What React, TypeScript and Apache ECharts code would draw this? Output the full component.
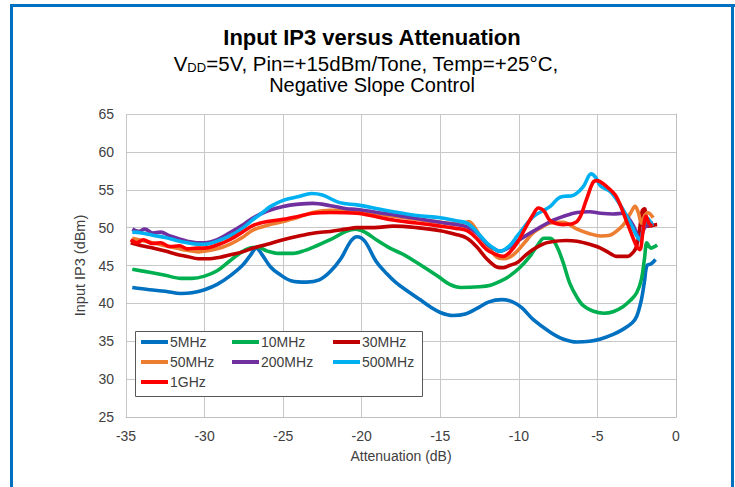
import React, { useEffect, useRef } from "react";
import * as echarts from "echarts";

const seriesNames = ["5MHz", "10MHz", "30MHz", "50MHz", "200MHz", "500MHz", "1GHz"];
const seriesColors = ["#0070C0", "#00B050", "#C00000", "#ED7D31", "#7030A0", "#00B0F0", "#FF0000"];

const xTicks = { min: -35, max: 0, interval: 5 };
const yTicks = { min: 25, max: 65, interval: 5 };

const d5MHz = [
  [-34.6, 42.1], [-33.5, 41.8], [-32.5, 41.6], [-31.5, 41.3], [-30.8, 41.4], [-30, 41.8], [-29.2, 42.5],
  [-28.4, 43.6], [-27.6, 45.0], [-27.1, 46.3], [-26.7, 47.3], [-26.3, 46.3], [-25.8, 44.8], [-25.2, 43.8],
  [-24.5, 43.0], [-23.5, 42.8], [-22.7, 43.1], [-22, 44.2], [-21.3, 46.0], [-20.7, 48.2], [-20.3, 48.8],
  [-19.8, 48.2], [-19.1, 45.6], [-18.4, 43.9], [-17.8, 42.7], [-17, 41.5], [-16.3, 40.5], [-15.6, 39.5],
  [-15, 38.8], [-14.2, 38.4], [-13.4, 38.6], [-12.7, 39.3], [-11.9, 40.2], [-11.1, 40.5], [-10.4, 40.2],
  [-9.8, 39.4], [-9.1, 37.9], [-8, 36.2], [-7.2, 35.3], [-6.3, 34.9], [-5.5, 35.0], [-4.8, 35.3],
  [-4.0, 35.9], [-3.35, 36.6], [-2.8, 37.4], [-2.5, 38.3], [-2.2, 40.5], [-2.0, 43.0], [-1.85, 45.0],
  [-1.6, 45.2], [-1.3, 45.8],
];

const d10MHz = [
  [-34.6, 44.5], [-33.5, 44.1], [-32.5, 43.7], [-31.5, 43.3], [-30.8, 43.3], [-30, 43.6], [-29.2, 44.3],
  [-28.4, 45.6], [-27.7, 46.7], [-27.1, 47.3], [-26.6, 47.4], [-26, 46.9], [-25.3, 46.6], [-24.4, 46.6],
  [-23.6, 47.0], [-23, 47.5], [-22, 48.4], [-21, 49.5], [-20.4, 49.8], [-19.8, 49.4], [-19, 48.3],
  [-18.2, 47.3], [-17.3, 46.4], [-16.5, 45.4], [-15.9, 44.6], [-15.1, 43.5], [-14.4, 42.5], [-13.7, 42.1],
  [-12.5, 42.2], [-11.8, 42.4], [-11.2, 42.9], [-10.6, 43.6], [-9.9, 44.8], [-9.3, 46.2], [-8.8, 47.7],
  [-8.4, 48.6], [-8.0, 48.6], [-7.6, 47.6], [-7.2, 45.5], [-6.75, 42.6], [-6.3, 40.8], [-5.9, 39.7],
  [-5.3, 39.0], [-4.6, 38.7], [-4.0, 38.9], [-3.35, 39.6], [-2.9, 40.4], [-2.5, 41.4], [-2.2, 43.2],
  [-2.0, 46.0], [-1.85, 48.0], [-1.6, 47.3], [-1.2, 47.7],
];

const d30MHz = [
  [-34.7, 48.0], [-34, 47.6], [-33.3, 47.3], [-32.5, 46.9], [-31.8, 46.5], [-31.1, 46.2], [-30.4, 45.9],
  [-29.8, 45.9], [-29, 46.1], [-28.4, 46.4], [-27.6, 46.8], [-26.9, 47.3], [-26, 47.8], [-25, 48.4],
  [-24, 48.9], [-23, 49.3], [-22, 49.5], [-21, 49.8], [-20.3, 50.0], [-19.2, 50.0], [-18, 50.2],
  [-16.5, 50.0], [-15, 49.6], [-14, 49.1], [-13.3, 48.6], [-12.7, 47.5], [-12.05, 45.9], [-11.4, 44.8],
  [-11.0, 44.7], [-10.6, 45.0], [-10.1, 45.4], [-9.6, 46.3], [-9.1, 47.1], [-8.5, 47.8], [-8.0, 48.1],
  [-7.0, 48.3], [-6.3, 48.2], [-5.5, 47.8], [-4.8, 47.3], [-4.2, 46.6], [-3.8, 46.2], [-3.1, 46.2],
  [-2.7, 46.8], [-2.5, 47.6], [-2.3, 50.0], [-2.15, 52.2], [-2.0, 52.5], [-1.9, 51.0], [-1.75, 50.2],
  [-1.5, 50.3], [-1.2, 50.4],
];

const d50MHz = [
  [-34.6, 48.6], [-34, 48.3], [-33.3, 48.0], [-32.5, 47.6], [-31.8, 47.3], [-31.1, 47.0], [-30.4, 46.8],
  [-30, 46.9], [-29.2, 47.2], [-28.4, 47.8], [-27.6, 48.7], [-26.9, 49.7], [-26, 50.3], [-25, 50.8],
  [-24, 51.4], [-23.1, 52.0], [-22, 52.3], [-21, 52.3], [-20.3, 52.1], [-19, 51.8], [-18, 51.5],
  [-16.5, 51.1], [-15, 50.7], [-14, 50.5], [-13.5, 50.6], [-13.2, 50.8], [-12.9, 50.3], [-12.5, 49.0],
  [-12, 47.6], [-11.4, 46.1], [-11.0, 45.9], [-10.5, 46.2], [-10.1, 46.9], [-9.6, 48.1], [-9.1, 49.3],
  [-8.5, 50.1], [-8.0, 50.6], [-7.2, 50.7], [-6.3, 49.8], [-5.5, 49.2], [-4.8, 48.9], [-4.2, 49.0],
  [-3.8, 49.5], [-3.3, 50.5], [-2.9, 51.9], [-2.6, 52.8], [-2.4, 52.0], [-2.2, 50.6], [-2.0, 51.5],
  [-1.8, 52.0], [-1.45, 51.3],
];

const d200MHz = [
  [-34.6, 49.8], [-34.2, 49.5], [-33.8, 49.8], [-33.3, 49.3], [-32.8, 49.4], [-32.2, 48.9], [-31.6, 48.5],
  [-31.1, 48.2], [-30.5, 48.0], [-30, 48.0], [-29.2, 48.4], [-28.4, 49.3], [-27.6, 50.3], [-26.9, 51.3],
  [-26, 52.2], [-25, 52.8], [-24, 53.1], [-23.1, 53.2], [-22, 52.9], [-21, 52.5], [-20.3, 52.4],
  [-19, 52.0], [-18, 51.7], [-16.5, 51.2], [-15, 50.7], [-14, 50.4], [-13.3, 50.1], [-12.7, 49.3],
  [-12, 47.8], [-11.4, 47.0], [-11.2, 46.9], [-10.6, 47.4], [-10.1, 48.2], [-9.1, 49.5], [-8.0, 50.8],
  [-7.0, 51.6], [-6.3, 52.0], [-5.5, 52.1], [-4.8, 51.9], [-4.0, 51.8], [-3.35, 51.9], [-3.0, 51.2],
  [-2.7, 50.2], [-2.3, 48.6], [-2.0, 50.0], [-1.7, 50.4], [-1.45, 50.6],
];

const d500MHz = [
  [-34.6, 49.4], [-34, 49.3], [-33.3, 49.0], [-32.5, 48.7], [-31.8, 48.3], [-31.1, 48.0], [-30.4, 47.8],
  [-30, 47.8], [-29.2, 48.2], [-28.4, 48.9], [-27.6, 49.9], [-26.9, 51.1], [-26.3, 52.0], [-25.8, 52.8],
  [-25, 53.6], [-24, 54.1], [-23.2, 54.5], [-22.5, 54.3], [-21.4, 53.3], [-20.3, 53.0], [-19, 52.5],
  [-18, 52.1], [-16.5, 51.6], [-15, 51.3], [-14, 50.9], [-13.3, 50.6], [-12.7, 49.5], [-12, 47.9],
  [-11.4, 47.0], [-11.2, 46.9], [-10.6, 47.6], [-10.1, 48.9], [-9.1, 51.4], [-8.0, 52.8], [-7.4, 54.0],
  [-6.5, 54.3], [-5.9, 55.4], [-5.4, 57.1], [-5.1, 56.6], [-4.8, 55.5], [-4.2, 54.8], [-3.8, 53.8],
  [-3.35, 52.3], [-2.8, 50.2], [-2.5, 48.9], [-2.3, 48.4], [-2.0, 50.5], [-1.8, 51.2], [-1.5, 50.2],
];

const d1GHz = [
  [-34.7, 48.4], [-34.3, 48.0], [-33.9, 48.4], [-33.3, 47.9], [-32.8, 48.0], [-32.2, 47.5], [-31.6, 47.6],
  [-31.1, 47.2], [-30.5, 47.3], [-30, 47.3], [-29.2, 47.7], [-28.4, 48.4], [-27.6, 49.4], [-26.9, 50.3],
  [-26, 50.8], [-25, 51.1], [-24, 51.5], [-23.1, 51.9], [-22, 52.0], [-20.3, 51.9], [-19, 51.4],
  [-18, 51.0], [-16.5, 50.6], [-15, 50.2], [-14, 49.9], [-13.3, 49.6], [-12.7, 48.6], [-12.05, 47.1],
  [-11.4, 46.4], [-11, 46.2], [-10.6, 46.7], [-10.1, 48.0], [-9.6, 49.9], [-9.1, 51.7], [-8.76, 52.6],
  [-8.4, 52.2], [-8.0, 50.9], [-7.2, 50.4], [-6.3, 50.8], [-5.7, 53.7], [-5.3, 55.9], [-5.05, 56.2],
  [-4.4, 55.4], [-3.8, 54.1], [-3.1, 50.6], [-2.5, 47.5], [-2.3, 47.1], [-2.1, 49.5], [-1.9, 51.5],
  [-1.7, 50.5], [-1.5, 50.2],
];

const seriesData = [d5MHz, d10MHz, d30MHz, d50MHz, d200MHz, d500MHz, d1GHz];

const titleText = "Input IP3 versus Attenuation";
const subtitleLine2 = "Negative Slope Control";
const xAxisName = "Attenuation (dB)";
const yAxisName = "Input IP3 (dBm)";

const legendColumns = [
  ["5MHz", "50MHz", "1GHz"],
  ["10MHz", "200MHz"],
  ["30MHz", "500MHz"],
];
const legendLefts = [141, 232, 333];

export default function App() {
  const ref = useRef<HTMLDivElement>(null);
  useEffect(() => {
    if (!ref.current) return;
    const chart = echarts.init(ref.current, null, { renderer: "svg" });
    const font = "'Liberation Sans', Arial, sans-serif";
    const frameColor = "#0070C0";
    const option: any = {
      animation: false,
      backgroundColor: "#ffffff",
      textStyle: { fontFamily: font },
      grid: { left: 126, right: 59, top: 114, bottom: 70, containLabel: false },
      xAxis: {
        type: "value",
        min: xTicks.min,
        max: xTicks.max,
        interval: xTicks.interval,
        name: xAxisName,
        nameLocation: "middle",
        nameGap: 32,
        nameTextStyle: { fontSize: 14, color: "#404040", fontFamily: font },
        axisLine: { show: true, lineStyle: { color: "#bfbfbf", width: 1 } },
        axisTick: { show: false },
        axisLabel: { fontSize: 14, color: "#404040", margin: 12, fontFamily: font },
        splitLine: { show: true, lineStyle: { color: "#c8c8c8", width: 1 } },
      },
      yAxis: {
        type: "value",
        min: yTicks.min,
        max: yTicks.max,
        interval: yTicks.interval,
        name: yAxisName,
        nameLocation: "middle",
        nameGap: 32,
        nameRotate: 90,
        nameTextStyle: { fontSize: 14.5, color: "#404040", fontFamily: font },
        axisLine: { show: true, lineStyle: { color: "#bfbfbf", width: 1 } },
        axisTick: { show: false },
        axisLabel: { fontSize: 14, color: "#404040", margin: 12, fontFamily: font },
        splitLine: { show: true, lineStyle: { color: "#c8c8c8", width: 1 } },
      },
      legend: legendColumns.map((col, i) => ({
        data: col,
        orient: "vertical",
        left: legendLefts[i],
        top: 335,
        padding: 0,
        itemGap: 6,
        itemWidth: 27,
        itemHeight: 4,
        icon: "rect",
        z: 5,
        textStyle: { fontSize: 14, color: "#404040", fontFamily: font, padding: [0, 0, 0, -3] },
      })),
      graphic: [
        { type: "rect", z: 10, shape: { x: 10, y: 4, width: 3, height: 483 }, style: { fill: frameColor } },
        { type: "rect", z: 10, shape: { x: 10, y: 4, width: 725, height: 3 }, style: { fill: frameColor } },
        { type: "rect", z: 10, shape: { x: 731, y: 4, width: 3, height: 483 }, style: { fill: frameColor } },
        {
          type: "rect",
          z: 3,
          shape: { x: 135.5, y: 331.5, width: 287, height: 65 },
          style: { fill: "#ffffff", stroke: "#595959", lineWidth: 1 },
        },
        {
          type: "text",
          x: 372,
          y: 37,
          style: {
            text: titleText,
            font: `bold 22px ${font}`,
            fill: "#000000",
            align: "center",
            verticalAlign: "middle",
          },
        },
        {
          type: "text",
          x: 366,
          y: 62,
          style: {
            text: "{n|V}{s|DD}{n|=5V, Pin=+15dBm/Tone, Temp=+25°C,}",
            align: "center",
            verticalAlign: "middle",
            rich: {
              n: { fontSize: 20.5, fontFamily: font, fill: "#000000", lineHeight: 24, verticalAlign: "bottom" },
              s: { fontSize: 13, fontFamily: font, fill: "#000000", lineHeight: 24, verticalAlign: "bottom", padding: [7, 0, 0, 0] },
            },
          },
        },
        {
          type: "text",
          x: 372,
          y: 85,
          style: {
            text: subtitleLine2,
            font: `20px ${font}`,
            fill: "#000000",
            align: "center",
            verticalAlign: "middle",
          },
        },
      ],
      series: seriesNames.map((name, i) => ({
        name,
        type: "line",
        data: seriesData[i],
        showSymbol: false,
        symbol: "none",
        smooth: 0.35,
        z: 2,
        color: seriesColors[i],
        lineStyle: { width: 3.6, color: seriesColors[i] },
        itemStyle: { color: seriesColors[i] },
      })),
    };
    chart.setOption(option);
    return () => chart.dispose();
  }, []);
  return (
    <div
      ref={ref}
      style={{ position: "fixed", left: 0, top: 0, width: 735, height: 487, background: "#fff" }}
    />
  );
}
